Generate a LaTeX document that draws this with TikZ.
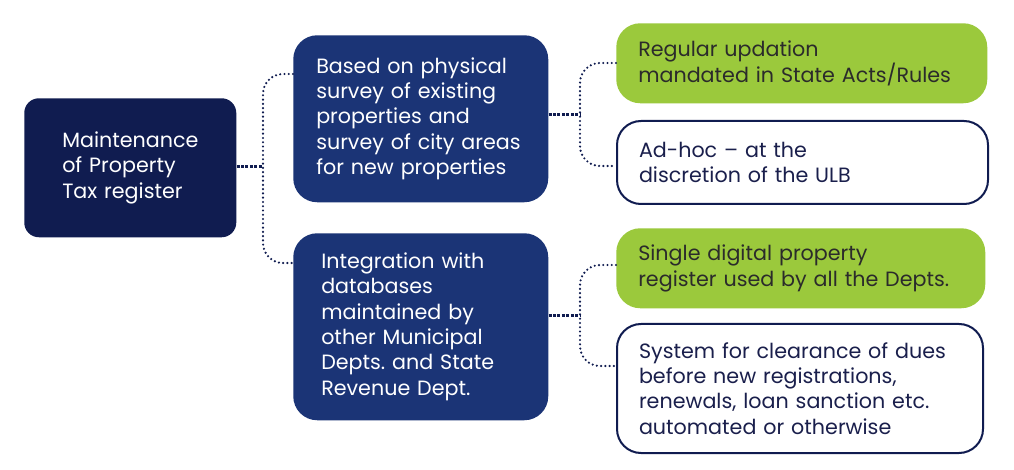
\documentclass[tikz,border=0pt]{standalone}
\usepackage{fontspec}
\setmainfont{Poppins}
\frenchspacing
\usetikzlibrary{calc}
\definecolor{navyD}{HTML}{101C50}
\definecolor{navyM}{HTML}{1B3476}
\definecolor{lgreen}{HTML}{9BC93C}
\definecolor{txtD}{HTML}{2B2B2B}
\definecolor{txtN}{HTML}{1A1F4C}
\begin{document}
\begin{tikzpicture}[x=0.75pt,y=-0.75pt,
  box/.style={anchor=north west, inner ysep=0pt, align=left,
    font=\fontsize{15.5}{19}\selectfont\frenchspacing},
  leftbox/.style={box, fill=navyD, text=white, rounded corners=11pt},
  midbox/.style={box, fill=navyM, text=white, rounded corners=18pt},
  greenbox/.style={box, fill=lgreen, text=txtD, rounded corners=18pt},
  whitebox/.style={box, fill=white, draw=navyD, line width=1.5pt, text=txtN, rounded corners=18pt},
  brk/.style={draw=navyD, line width=1.8pt, line cap=round, dash pattern=on 0pt off 3.2pt, rounded corners=15pt},
  stub/.style={draw=navyD, line width=2.25pt, dash pattern=on 2.25pt off 1.1pt}]
\useasboundingbox (0,0) rectangle (1014,470);
\fill[white] (0,0) rectangle (1014,470);

\node[leftbox, minimum width=159pt, minimum height=104.25pt, inner xsep=28.5pt, text width=102pt]
  (L) at (24,98) {Maintenance\\of Property\\Tax register};

\node[midbox, minimum width=191.25pt, minimum height=125.25pt, inner xsep=17.25pt, text width=156.75pt]
  (M1) at (293,35) {Based on physical\\survey of existing\\properties and\\survey of city areas\\for new properties};
\node[midbox, minimum width=191.25pt, minimum height=140.25pt, inner xsep=21pt, text width=149.25pt]
  (M2) at (293,233) {Integration with\\databases\\maintained by\\other Municipal\\Depts. and State\\Revenue Dept.};

\node[greenbox, minimum width=278.25pt, minimum height=60pt, inner xsep=16.5pt, text width=245.25pt]
  (G1) at (616,23) {Regular updation\\mandated in State Acts/Rules};
\node[whitebox, minimum width=278.25pt, minimum height=62.25pt, inner xsep=16.5pt, text width=245.25pt]
  (W1) at (616,120) {Ad-hoc – at the\\discretion of the ULB};
\node[greenbox, minimum width=276.75pt, minimum height=60pt, inner xsep=16.5pt, text width=243.75pt]
  (G2) at (616,228) {Single digital property\\register used by all the Depts.};
\node[whitebox, minimum width=274.5pt, minimum height=96.75pt, inner xsep=16.5pt, text width=241.5pt]
  (W2) at (616,323) {System for clearance of dues\\before new registrations,\\renewals, loan sanction etc.\\automated or otherwise};

% junctions
\coordinate (JA) at (263,167);
\coordinate (JB) at (580,115);
\coordinate (JC) at (580,316);
\coordinate (a1) at (0,74);
\coordinate (a2) at (0,263);
\coordinate (b1) at (0,63);
\coordinate (b2) at (0,166);
\coordinate (c1) at (0,265);
\coordinate (c2) at (0,366);

\draw[stub] (L.east |- JA) -- (JA);
\draw[brk] (M1.west |- a1) -| (JA) |- (M2.west |- a2);

\draw[stub] (M1.east |- JB) -- (JB);
\draw[brk] (G1.west |- b1) -| (JB) |- (W1.west |- b2);

\draw[stub] (M2.east |- JC) -- (JC);
\draw[brk] (G2.west |- c1) -| (JC) |- (W2.west |- c2);
\end{tikzpicture}
\end{document}
